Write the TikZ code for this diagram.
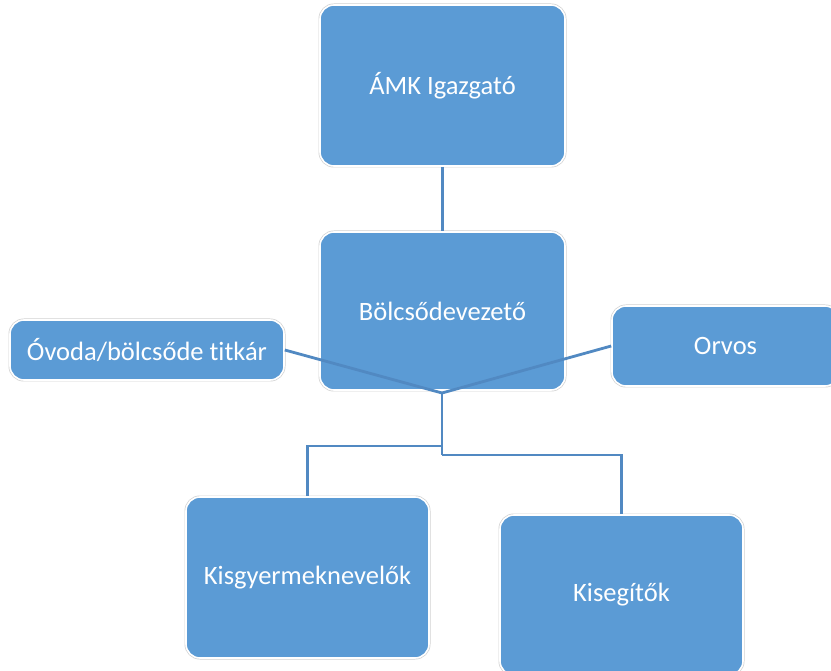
\documentclass[tikz,border=0pt]{standalone}
\usepackage{fontspec}
\setmainfont{Carlito}[Ligatures=NoCommon]
\definecolor{boxblue}{HTML}{5B9BD5}
\definecolor{connblue}{HTML}{5189C2}
\begin{document}
\begin{tikzpicture}[x=1pt,y=-1pt,
  orgbox/.style={rounded corners=14pt, fill=boxblue, draw=white, line width=1.6pt,
    preaction={draw=black!18, line width=3pt},
    text=white, inner sep=0pt, font=\fontsize{26.5}{31}\selectfont, anchor=center},
  conn/.style={draw=connblue, line width=2.8pt}]
\useasboundingbox (0,0) rectangle (831,671);
\node[orgbox, minimum width=245pt, minimum height=161pt] (amk) at (442.5,85.5) {ÁMK Igazgató};
\node[orgbox, minimum width=245pt, minimum height=158pt] (bol) at (442.5,311) {Bölcsődevezető};
\node[orgbox, minimum width=274pt, minimum height=60pt] (tit) at (147,350) {Óvoda/bölcsőde titkár};
\node[orgbox, minimum width=227pt, minimum height=80pt] (orv) at (725.5,346) {Orvos};
\node[orgbox, minimum width=243pt, minimum height=161pt] (kgy) at (307.5,577.5) {Kisgyermeknevelők};
\node[orgbox, minimum width=243pt, minimum height=160pt] (kse) at (621.5,595) {Kisegítők};
\coordinate (j) at (442,393);
\coordinate (jl) at (442,446);
\coordinate (jr) at (442,455);
\draw[conn] (amk.south) -- (bol.north);
\draw[conn] (tit.east) -- (j);
\draw[conn] (orv.west) -- (j);
\draw[conn] (j) -- (jr);
\draw[conn] (jl) -| (kgy.north);
\draw[conn] (jr) -| (kse.north);
\end{tikzpicture}
\end{document}
